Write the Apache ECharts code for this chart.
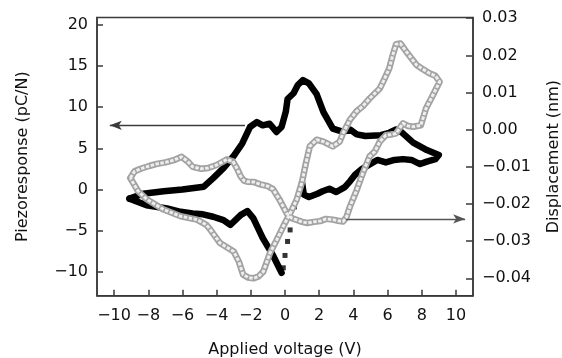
<!DOCTYPE html>
<html>
<head>
<meta charset="utf-8">
<script src="https://cdn.jsdelivr.net/npm/echarts@6/dist/echarts.min.js"></script>
<style>
  html, body { margin: 0; padding: 0; background: #ffffff; }
  #chart { width: 562px; height: 358px; }
</style>
</head>
<body>
<div id="chart"></div>
<script>
// Tick values for the three axes
const voltageTicks = [-10, -8, -6, -4, -2, 0, 2, 4, 6, 8, 10];
const piezoTicks = [-10, -5, 0, 5, 10, 15, 20];
const dispTicks = [-0.04, -0.03, -0.02, -0.01, 0, 0.01, 0.02, 0.03];

// Piezoresponse hysteresis loop (V, pC/N): rising branch and upper return
const piezoVoltage = [
  -9.1, -8.3, -7.1, -6.0, -4.75, -4.2, -3.6, -3.0, -2.5, -2.05, -1.65, -1.3, -0.9, -0.5, -0.2,
  0.05, 0.15, 0.5, 0.75, 1.05, 1.4, 1.85, 2.25, 2.8, 3.4, 3.8, 4.2, 4.7, 5.6, 6.1, 6.5, 6.8, 7.5, 8.3, 9.0,
  8.8, 8.3, 7.9, 7.4, 6.9, 6.4, 5.9, 5.4, 4.9, 4.5, 4.1, 3.8, 3.5, 3.0, 2.6, 2.2, 1.9, 1.4, 1.1, 1.0
];
const piezoResponse = [
  -1.1, -0.5, -0.2, 0.0, 0.35, 1.4, 2.6, 4.1, 5.6, 7.6, 8.2, 7.8, 8.0, 7.0, 7.6,
  9.5, 11.0, 11.7, 12.7, 13.3, 12.9, 11.6, 9.4, 7.4, 7.0, 7.3, 6.7, 6.5, 6.6, 6.9, 7.3, 7.0, 5.7, 4.8, 4.2,
  3.7, 3.4, 3.1, 3.6, 3.7, 3.6, 3.3, 3.6, 3.0, 2.5, 1.8, 1.0, 0.3, -0.3, 0.1, -0.2, -0.5, -0.9, -0.6, 0.8
];
// Fast switching segment, sampled sparsely
const switchVoltage = [0.55, 0.3, 0.15, 0.0, -0.1];
const switchResponse = [-2.1, -4.9, -6.3, -8.0, -9.5];
// Return branch from the negative extreme back to the start
const returnVoltage = [
  -0.2, -0.3, -0.7, -1.3, -1.85, -2.2, -2.6, -3.2, -3.6, -4.2, -4.8, -5.4, -6.1, -6.9, -8.1, -9.1
];
const returnResponse = [
  -10.1, -9.9, -8.0, -5.9, -3.5, -2.6, -3.1, -4.3, -3.7, -3.3, -3.0, -2.9, -2.7, -2.3, -1.9, -1.1
];

// Displacement butterfly loop (V, nm), closed path
const dispVoltage = [
  -9.05, -8.8, -8.45, -7.9, -7.5, -7.0, -6.5, -6.05, -5.7, -5.4, -4.9, -4.5, -4.0, -3.6, -3.4, -3.05,
  -2.8, -2.6, -2.4, -2.2, -1.8, -1.45, -1.0, -0.7, -0.3, 0.1, 0.4, 0.7, 1.0, 1.3, 1.7, 2.05, 2.4, 2.8,
  3.1, 3.4, 3.6, 3.8, 4.2, 4.55, 4.95, 5.25, 5.55, 5.9, 6.2, 6.5, 6.9, 7.2, 7.5, 7.95, 8.25, 8.65, 9.05,
  8.8, 8.45, 8.0, 7.7, 7.1, 6.75, 6.5, 6.3, 6.1, 5.8, 5.55, 4.95, 4.55, 4.2, 3.8, 3.4, 3.2, 2.8, 2.25,
  1.85, 1.45, 1.2, 1.0, 0.68, 0.3, -0.1, -0.5, -0.88, -1.27, -1.55, -1.85, -2.15, -2.45, -2.7, -3.0,
  -3.8, -4.35, -4.6, -5.15, -6.1, -7.1, -8.07, -8.6, -9.05
];
const dispNm = [
  -0.0130, -0.0112, -0.0105, -0.0097, -0.0092, -0.0088, -0.0082, -0.0073, -0.0085, -0.0100, -0.0105,
  -0.0103, -0.0095, -0.0085, -0.0080, -0.0085, -0.0105, -0.0125, -0.0137, -0.0140, -0.0141, -0.0147,
  -0.0152, -0.0160, -0.0190, -0.0225, -0.0238, -0.0243, -0.0248, -0.0251, -0.0248, -0.0246, -0.0240,
  -0.0242, -0.0245, -0.0247, -0.0235, -0.0207, -0.0162, -0.0117, -0.0072, -0.0059, -0.0032, -0.0015,
  -0.0013, -0.0010, 0.0017, 0.0010, 0.0008, 0.0012, 0.0057, 0.0093, 0.0129,
  0.0145, 0.0152, 0.0165, 0.0174, 0.0210, 0.0232, 0.0230, 0.0200, 0.0165, 0.0135, 0.0111, 0.0084,
  0.0063, 0.0050, 0.0027, -0.0009, -0.0032, -0.0045, -0.0032,
  -0.0027, -0.0045, -0.0095, -0.0140, -0.0189, -0.0225, -0.0260, -0.0298, -0.0332, -0.0382, -0.0395,
  -0.0400, -0.0398, -0.0390, -0.0355, -0.0328, -0.0305, -0.0270, -0.0256, -0.0242, -0.0233, -0.0215,
  -0.0188, -0.0165, -0.0130
];

// Annotation arrows: [voltage, value] pairs, tail then head
const piezoArrow = [[-2.34, 7.8], [-10.25, 7.8]];
const dispArrow = [[3.57, -0.0240], [10.54, -0.0240]];

const zip = (xs, ys) => xs.map((x, i) => [x, ys[i]]);
const minus = s => s.replace('-', '\u2212');

const piezoLine = zip(piezoVoltage, piezoResponse);
const piezoReturn = zip(returnVoltage, returnResponse);
const dispPath = zip(dispVoltage, dispNm);

const FONT = 'DejaVu Sans';
const AXIS = '#3a3a3a';
const axisLineStyle = { show: true, onZero: false, lineStyle: { color: AXIS, width: 1.5 } };
const tickStyle = { inside: true, length: 6, lineStyle: { color: AXIS, width: 1.5 } };

const arrowLine = (pts, color) => ({
  silent: true,
  symbol: ['none', 'arrow'],
  symbolSize: [7, 12],
  label: { show: false },
  lineStyle: { color: color, width: 1.3, type: 'solid' },
  emphasis: { disabled: true },
  animation: false,
  data: [[{ coord: pts[0] }, { coord: pts[1] }]]
});

const chart = echarts.init(document.getElementById('chart'), null, { renderer: 'canvas' });
chart.setOption({
  animation: false,
  backgroundColor: '#ffffff',
  textStyle: { fontFamily: FONT },
  grid: {
    left: 97, right: 89, top: 17.5, bottom: 62.2,
    outerBoundsMode: 'none', containLabel: false,
    show: true, borderColor: AXIS, borderWidth: 1.5, backgroundColor: 'transparent'
  },
  xAxis: {
    type: 'value', min: -11, max: 11,
    name: 'Applied voltage (V)', nameLocation: 'middle', nameGap: 46,
    nameTextStyle: { fontFamily: FONT, fontSize: 16, color: '#111' },
    axisLine: axisLineStyle,
    axisTick: Object.assign({ customValues: voltageTicks }, tickStyle),
    axisLabel: {
      customValues: voltageTicks, margin: 12,
      fontFamily: FONT, fontSize: 16, color: '#111',
      formatter: v => minus(String(v))
    },
    splitLine: { show: false }
  },
  yAxis: [
    {
      type: 'value', min: -12.9, max: 20.9, position: 'left',
      name: 'Piezoresponse (pC/N)', nameLocation: 'middle', nameGap: 66, nameRotate: 90,
      nameTextStyle: { fontFamily: FONT, fontSize: 16, color: '#111' },
      axisLine: axisLineStyle,
      axisTick: Object.assign({ customValues: piezoTicks }, tickStyle),
      axisLabel: {
        customValues: piezoTicks, margin: 9,
        fontFamily: FONT, fontSize: 16, color: '#111',
        formatter: v => minus(String(v))
      },
      splitLine: { show: false }
    },
    {
      type: 'value', min: -0.0447, max: 0.0302, position: 'right',
      name: 'Displacement (nm)', nameLocation: 'middle', nameGap: 73, nameRotate: 90,
      nameTextStyle: { fontFamily: FONT, fontSize: 16, color: '#111' },
      axisLine: axisLineStyle,
      axisTick: Object.assign({ customValues: dispTicks }, tickStyle, { length: 7 }),
      axisLabel: {
        customValues: dispTicks, margin: 9,
        fontFamily: FONT, fontSize: 16, color: '#111',
        formatter: v => minus(v.toFixed(2))
      },
      splitLine: { show: false }
    }
  ],
  series: [
    {
      name: 'Piezoresponse', type: 'line', yAxisIndex: 0,
      data: piezoLine, showSymbol: false, symbol: 'none',
      lineStyle: { color: '#000', width: 6.5, join: 'round', cap: 'round' },
      z: 3,
      markLine: arrowLine(piezoArrow, '#3c3c3c')
    },
    {
      name: 'Piezoresponse return', type: 'line', yAxisIndex: 0,
      data: piezoReturn, showSymbol: false, symbol: 'none',
      lineStyle: { color: '#000', width: 6.5, join: 'round', cap: 'round' },
      z: 3
    },
    {
      name: 'Switching', type: 'scatter', yAxisIndex: 0,
      data: zip(switchVoltage, switchResponse),
      symbol: 'rect', symbolSize: 5,
      itemStyle: { color: '#000' }, z: 3
    },
    {
      name: 'Displacement', type: 'line', yAxisIndex: 1,
      data: dispPath, showSymbol: false, symbol: 'none',
      lineStyle: { color: '#a2a2a2', width: 6.5, join: 'round', cap: 'round' },
      z: 4,
      markLine: arrowLine(dispArrow, '#555555')
    },
    {
      name: 'Displacement fill', type: 'line', yAxisIndex: 1,
      data: dispPath, showSymbol: false, symbol: 'none',
      lineStyle: { color: '#eeeeee', width: 3, type: [3.5, 1.5], join: 'round' },
      z: 5
    }
  ]
});
</script>
</body>
</html>
